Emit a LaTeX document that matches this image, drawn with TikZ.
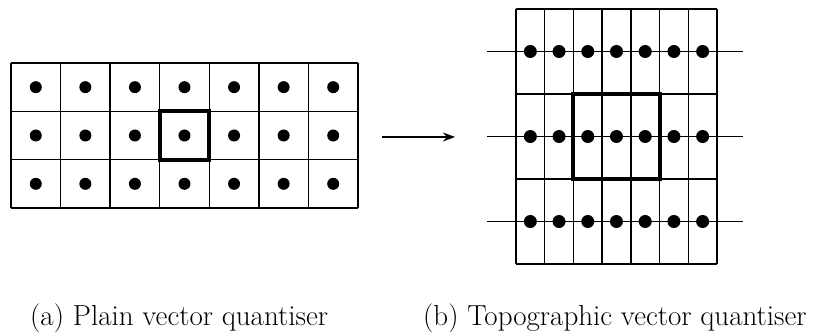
\documentclass[tikz,border=0pt]{standalone}
\usepackage{tikz}
\usetikzlibrary{arrows.meta,positioning}
\tikzset{
  gridline/.style={line width=1.3pt, black},
  selbox/.style={line width=4pt, black},
  dotline/.style={line width=1.8pt, black},
  qdot/.style={fill=black},
  caption/.style={font=\fontsize{29}{33}\selectfont, anchor=base west, inner sep=0pt},
}

\begin{document}
\begin{tikzpicture}[x=1pt, y=-1pt]
\useasboundingbox (0,0) rectangle (813,334);
% Left: plain vector quantiser, 7x3 square cells
\foreach \i in {0,...,7} \draw[gridline] ({11+49.57*\i},63) -- ({11+49.57*\i},208);
\foreach \j in {0,...,3} \draw[gridline] (11,{63+48.33*\j}) -- (358,{63+48.33*\j});
\foreach \i in {0,...,6} \foreach \j in {0,1,2}
  \fill[qdot] ({11+49.57*(\i+0.5)},{63+48.33*(\j+0.5)}) circle (6);
\draw[selbox] ({11+49.57*3},{63+48.33}) rectangle ({11+49.57*4},{63+48.33*2});
% Arrow between the two
\coordinate (arrowtail) at (382,137);
\coordinate (arrowtip) at (455,137);
\draw[-{Stealth[length=12pt, width=9pt]}, line width=1.6pt] (arrowtail) -- (arrowtip);
% Right: topographic vector quantiser, 7x3 tall cells
\foreach \i in {0,...,7} \draw[gridline] ({516+28.71*\i},9) -- ({516+28.71*\i},264);
\foreach \j in {0,...,3} \draw[gridline] (516,{9+85*\j}) -- (717,{9+85*\j});
\foreach \j in {0,1,2} {
  \draw[dotline] (487,{51.5+85*\j}) -- (743,{51.5+85*\j});
  \foreach \i in {0,...,6}
    \fill[qdot] ({516+28.71*(\i+0.5)},{51.5+85*\j}) circle (6.5);
}
\draw[selbox] ({516+28.71*2},94) rectangle ({516+28.71*5},179);
% Captions
\node[caption] (capa) at (30,325) {(a) Plain vector quantiser};
\node[caption] (capb) at (423,325) {(b) Topographic vector quantiser};
\end{tikzpicture}
\end{document}
